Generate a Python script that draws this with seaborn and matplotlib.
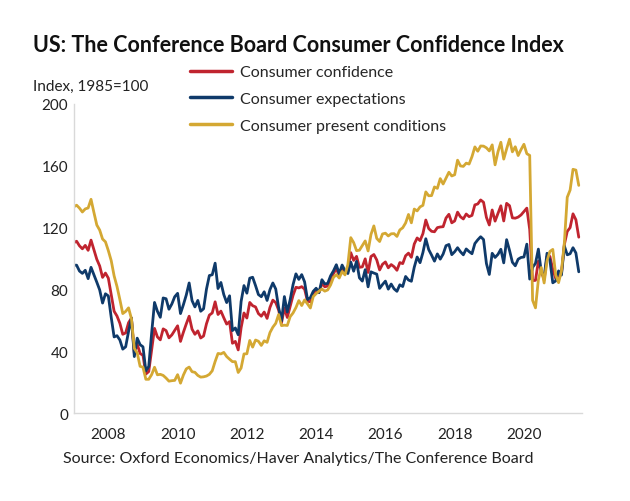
import numpy as np
import pandas as pd
import matplotlib
matplotlib.use("Agg")
import matplotlib.pyplot as plt
import seaborn as sns

# Monthly data, Jan 2007 - Aug 2021
confidence = [
    110.2, 111.2, 108.2, 106.3, 108.5, 105.3, 111.9, 105.6, 99.5, 95.2, 87.8, 90.6,
    87.3, 76.4, 65.9, 62.8, 58.1, 51.0, 51.9, 58.5, 61.4, 38.8, 44.7, 38.6,
    37.4, 25.3, 26.9, 40.8, 54.8, 49.3, 47.4, 54.5, 53.4, 48.7, 50.6, 53.6,
    56.5, 46.4, 52.3, 57.7, 62.7, 54.3, 51.0, 53.2, 48.6, 49.9, 57.8, 63.4,
    64.8, 72.0, 63.8, 66.0, 61.7, 57.6, 59.2, 45.2, 46.4, 40.9, 55.2, 64.8,
    61.5, 71.6, 69.5, 68.7, 64.4, 62.7, 65.4, 61.3, 68.4, 73.1, 71.5, 66.7,
    58.4, 68.0, 61.9, 69.0, 76.2, 81.4, 81.0, 81.8, 80.2, 72.4, 72.0, 77.5,
    79.4, 78.3, 83.9, 81.7, 82.2, 86.4, 90.3, 93.4, 89.0, 94.1, 91.0, 93.1,
    103.8, 98.8, 101.4, 94.3, 94.6, 99.8, 91.0, 101.3, 102.6, 99.1, 92.6, 96.3,
    97.8, 94.0, 96.1, 94.7, 92.4, 97.4, 96.7, 101.8, 103.5, 100.8, 109.4, 113.3,
    111.6, 116.1, 124.9, 119.4, 117.6, 117.3, 120.0, 120.4, 120.6, 126.2, 128.6, 123.1,
    124.3, 130.0, 127.0, 125.6, 128.8, 127.1, 127.9, 134.7, 135.3, 137.9, 136.4, 126.6,
    121.7, 131.4, 124.2, 129.2, 134.1, 124.3, 135.7, 134.2, 126.3, 126.1, 126.8, 128.2,
    130.4, 132.6, 118.8, 85.7, 85.9, 98.3, 91.7, 86.3, 101.3, 101.4, 92.9, 87.1,
    88.9, 90.4, 109.0, 117.5, 120.0, 128.9, 125.1, 113.8,
]
expectations = [
    95.7, 95.7, 91.9, 90.4, 92.4, 87.0, 94.3, 89.5, 84.7, 79.7, 71.2, 77.2,
    75.8, 61.9, 49.3, 50.1, 47.3, 41.4, 42.9, 52.8, 61.6, 36.6, 48.5, 44.3,
    42.9, 27.3, 30.2, 51.7, 71.6, 65.9, 62.0, 74.5, 74.0, 67.2, 70.6, 75.3,
    77.5, 64.4, 70.1, 76.4, 84.2, 72.8, 68.7, 72.9, 65.9, 67.5, 80.2, 89.0,
    89.5, 97.0, 80.6, 84.5, 76.7, 71.5, 75.9, 53.4, 55.1, 50.7, 72.2, 82.5,
    77.6, 87.3, 87.9, 82.5, 76.7, 75.3, 78.5, 72.9, 79.9, 84.2, 80.3, 68.3,
    59.6, 75.4, 65.4, 73.4, 83.1, 90.1, 86.5, 89.6, 84.9, 73.5, 74.7, 78.8,
    80.8, 77.9, 86.3, 83.6, 83.9, 88.8, 92.0, 96.0, 90.1, 95.8, 92.1, 90.3,
    97.7, 91.8, 98.2, 87.5, 85.4, 92.8, 81.7, 91.4, 90.6, 89.9, 80.7, 83.2,
    85.4, 80.2, 83.5, 80.4, 78.8, 83.0, 81.9, 88.4, 86.1, 85.3, 94.4, 101.0,
    97.3, 103.9, 112.8, 105.8, 102.2, 98.3, 103.0, 99.6, 102.9, 108.3, 109.1, 102.5,
    104.4, 107.0, 104.4, 102.4, 106.2, 104.5, 103.1, 109.7, 112.1, 114.1, 112.3, 96.8,
    89.7, 103.4, 100.7, 102.7, 106.0, 97.2, 112.2, 105.3, 97.6, 95.3, 99.6, 100.7,
    101.0, 109.3, 86.7, 94.3, 96.9, 106.1, 91.5, 87.9, 103.4, 98.9, 84.3, 85.5,
    92.0, 89.3, 108.2, 102.4, 103.1, 107.0, 103.6, 91.4,
]
present = [
    133.4, 134.5, 132.6, 130.1, 132.1, 132.7, 138.3, 129.8, 121.7, 118.4, 112.6, 110.8,
    105.1, 98.6, 88.8, 81.9, 73.4, 64.4, 65.8, 68.1, 61.1, 41.9, 39.0, 30.3,
    29.7, 21.9, 21.9, 24.9, 29.7, 24.8, 25.1, 24.4, 22.7, 20.7, 21.0, 21.2,
    24.9, 19.4, 24.6, 28.6, 29.8, 26.8, 26.4, 24.4, 23.3, 23.5, 24.0, 25.1,
    27.4, 33.4, 38.6, 38.3, 39.3, 36.6, 34.9, 33.3, 33.3, 26.3, 29.2, 38.3,
    38.4, 47.0, 42.7, 47.3, 46.5, 43.8, 46.8, 45.8, 52.1, 55.6, 58.1, 63.8,
    56.6, 56.9, 56.7, 62.4, 64.8, 68.3, 72.8, 69.6, 73.2, 70.7, 68.0, 75.4,
    77.3, 78.9, 80.3, 78.9, 79.7, 82.9, 87.8, 89.6, 87.4, 91.6, 89.4, 96.2,
    113.5, 110.3, 105.1, 105.4, 108.4, 111.4, 104.9, 115.6, 121.1, 113.0, 111.0, 115.9,
    116.4, 114.6, 116.0, 116.1, 114.3, 118.5, 119.9, 123.0, 128.5, 123.1, 132.0, 130.8,
    133.4, 134.4, 143.1, 140.6, 140.7, 146.3, 145.4, 151.7, 148.2, 152.0, 155.8, 153.4,
    154.2, 163.6, 159.9, 159.6, 161.7, 161.1, 165.9, 172.2, 169.4, 172.8, 172.7, 171.6,
    169.6, 173.5, 160.6, 169.0, 175.2, 164.3, 170.9, 177.2, 169.0, 172.3, 166.6, 170.5,
    173.9, 167.8, 166.7, 73.0, 68.1, 86.2, 94.2, 84.2, 98.5, 104.6, 105.9, 89.4,
    84.4, 92.0, 110.1, 139.6, 144.3, 157.7, 157.2, 147.3,
]
series_names = ["Consumer confidence", "Consumer expectations", "Consumer present conditions"]
colors = ["#C0242F", "#0F3A6A", "#D4A833"]
year_ticks = [2008, 2010, 2012, 2014, 2016, 2018, 2020]
y_ticks = [0, 40, 80, 120, 160, 200]

n = len(confidence)
t = 2007 + np.arange(n) / 12.0
df = pd.DataFrame({
    "t": np.concatenate([t, t, t]),
    "value": confidence + expectations + present,
    "series": np.repeat(series_names, n),
})

sns.set_theme(style="white")
plt.rcParams["font.family"] = ["Lato", "DejaVu Sans"]

fig = plt.figure(figsize=(6.3, 5.02), dpi=100)
ax = fig.add_axes([0.117, 0.175, 0.807, 0.616])
sns.lineplot(data=df, x="t", y="value", hue="series", hue_order=series_names,
             palette=colors, linewidth=2.0, ax=ax, legend=False)

ax.set_xlim(2007.0, 2021.68)
ax.set_ylim(0, 200)
ax.set_xticks(year_ticks)
ax.set_xticklabels([str(y) for y in year_ticks])
ax.set_yticks(y_ticks)
ax.set_xlabel("")
ax.set_ylabel("")
ax.tick_params(axis="both", length=0, labelsize=11, colors="#222222")
ax.tick_params(axis="x", pad=10)
ax.tick_params(axis="y", pad=4)
for s in ["top", "right"]:
    ax.spines[s].set_visible(False)
for s in ["left", "bottom"]:
    ax.spines[s].set_color("#d9d9d9")
    ax.spines[s].set_linewidth(1.0)

fig.text(0.052, 0.91, "US: The Conference Board Consumer Confidence Index",
         fontsize=15.5, fontweight="bold", color="#111111", va="center")
fig.text(0.052, 0.826, "Index, 1985=100", fontsize=11, color="#222222", va="center")
fig.text(0.1, 0.085, "Source: Oxford Economics/Haver Analytics/The Conference Board",
         fontsize=11.5, color="#222222", va="center")

handles = [plt.Line2D([], [], color=c, linewidth=2.5) for c in colors]
fig.legend(handles, series_names, loc="upper left", bbox_to_anchor=(0.302, 0.868),
           frameon=False, fontsize=11.5, handlelength=2.6, handletextpad=0.5,
           labelspacing=0.78, borderaxespad=0, borderpad=0)

fig.savefig("out.png", dpi=100, facecolor="white")
